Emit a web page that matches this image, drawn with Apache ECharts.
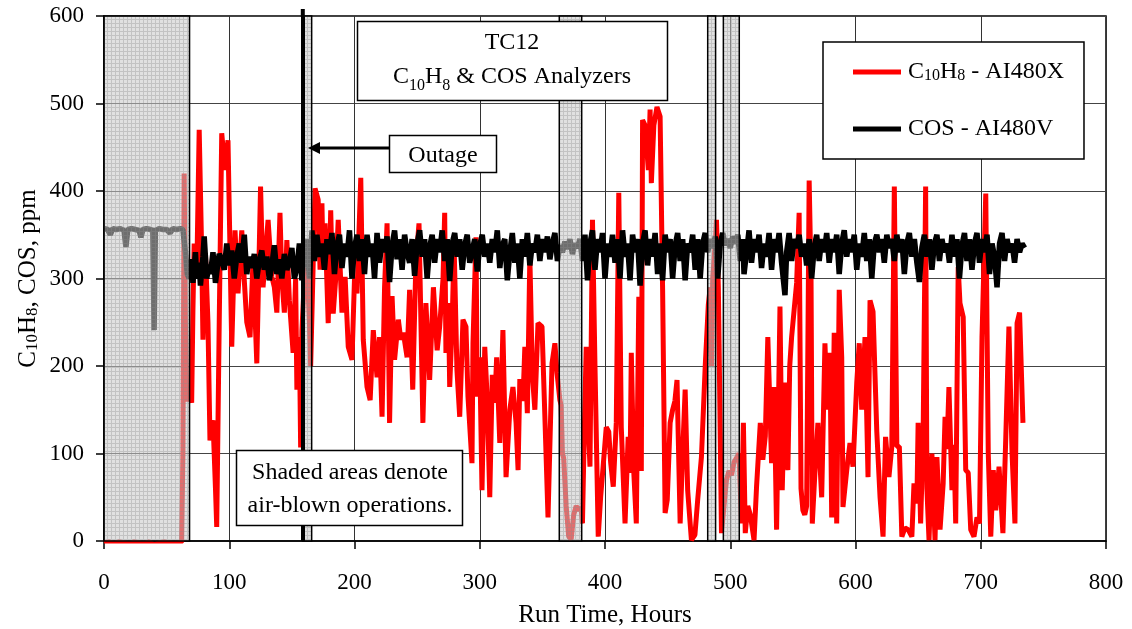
<!DOCTYPE html>
<html>
<head>
<meta charset="utf-8">
<script src="https://cdn.jsdelivr.net/npm/echarts@6/dist/echarts.min.js"></script>
<style>html,body{margin:0;padding:0;background:#fff}#chart{width:1132px;height:629px}</style>
</head>
<body>
<div id="chart"></div>
<script>
// ---- data (hours, ppm) ----
const xTicks = [0, 100, 200, 300, 400, 500, 600, 700, 800];
const yTicks = [0, 100, 200, 300, 400, 500, 600];
const shadedRanges = [[0, 68.3], [158.6, 165.8], [363.5, 381.4], [482, 488.3], [494.5, 507.2]];
const outageHour = 158.6;

const c10h8 = [
[0,-2],[4,-1],[8,-3],[12,-1],[16,-2],[20,-3],[24,-1],[28,-2],[32,-3],[36,-1],[40,-4],[44,-2],[48,-1],[52,-2],[56,-3],[60,-2],[62,-1],
[63,100],[64,420],[65,250],[66,165],[67,160],[68.7,169],[70,158],[71,264],[72,340],[74,300],[76,470],[78,330],[79,230],[81,329],[83,250],
[84.6,115],[86,130],[87,138],[89,60],[90,16],[92,250],[94,466],[96.6,424],[99,458],[102,222],[104.6,355],[107,283],[110,355],[112,298],
[114,250],[116.6,233],[119,321],[122,203],[125,405],[127,290],[129,330],[131,367],[134,302],[136,290],[138,261],[140.5,375],[142,300],
[144,261],[146,344],[148,275],[151,215],[153,300],[154,173],[156,233],[157,107],[158,240],[160,300],[162,320],[164,250],[165,200],
[166,199],[168.5,403],[171,390],[172.5,310],[174,386],[175,310],[176.5,363],[179,249],[181,378],[183,260],[185,300],[187,367],[190,261],
[192.5,302],[195,222],[198,207],[200,300],[202,283],[205,415],[207,230],[210,176],[212.5,161],[215,241],[218,187],[220,233],[222,142],
[224,290],[226,363],[228,135],[230,280],[232,207],[235,253],[237,230],[239,238],[242,210],[244,287],[246.5,173],[249,318],[251.5,363],
[254.6,135],[257,272],[260,184],[263,290],[266,218],[268,245],[270.7,300],[272,375],[273,215],[275,272],[276,176],[278,250],[279.5,340],
[281.8,195],[284,142],[286.6,253],[289,245],[290.6,165],[293.8,89],[294.6,226],[297,347],[298,165],[300,210],[301.8,58],[304,222],
[306,161],[308,50],[310,190],[312,158],[313.5,210],[316,112],[318.5,241],[321,73],[324,150],[326.5,176],[329,135],[330.6,81],[332,185],
[334.5,160],[336,222],[338,146],[340,325],[342,190],[344,150],[346.5,249],[349.7,245],[352,142],[354.5,27],[357.7,203],[360,226],
[361.7,192],[364,161],[365,155],[366,100],[367,95],[369,40],[371,5],[373,2],[375,30],[377,40],[379,35],[381,38],[382,20],[383.5,127],
[385,222],[386.6,135],[388,85],[390,367],[392,200],[394.6,5],[396.5,50],[398.5,85],[401,130],[403,125],[404.5,90],[406.6,62],[409,135],
[411,398],[413,130],[416,20],[418.5,119],[420,78],[421,215],[423,78],[425,20],[427,279],[429,80],[430,481],[432,475],[434.6,424],
[436,493],[437,409],[439,475],[441.5,496],[444,485],[446,287],[448,32],[449.7,47],[452,135],[454,150],[455.8,160],[457.5,184],[460,20],
[462,100],[464,173],[466,58],[469,1],[471.8,7],[474,47],[477,96],[480,199],[482.5,270],[484,290],[485,200],[486,300],[488,340],[489,367],
[490.5,290],[493,9],[495,40],[497,70],[499,80],[501,75],[503,90],[505,95],[507,100],[509,20],[510.5,135],[512,9],[514,40],[516,30],
[519,1],[521,62],[524,135],[526,93],[528,120],[530,233],[533,89],[535,176],[537,13],[539.7,268],[541.5,58],[543.7,181],[546,81],
[547.5,200],[549,233],[551,264],[553,295],[555,375],[556.5,60],[558,35],[559.5,30],[561,40],[563,412],[564.5,300],[565.5,20],[567.7,81],
[570,135],[573,50],[575.6,226],[577.5,150],[579.6,215],[581,27],[583,238],[585,20],[587,287],[589,210],[590,39],[593,81],[595.6,112],
[598,85],[601,181],[603,226],[605,150],[607.6,233],[610,73],[611.6,275],[614,262],[617,125],[619.6,50],[622,5],[624,119],[626.7,73],
[629,108],[631,405],[633,108],[635,108],[637,5],[639.5,15],[642,13],[645,5],[646.7,66],[649,43],[650,135],[652,20],[654,120],[656,405],
[657,60],[658.7,1],[661,100],[663.5,1],[665,96],[667.5,13],[670,66],[671.5,142],[673,105],[674.6,176],[677,58],[678.6,110],[680,20],
[682,313],[683.4,272],[686,256],[688,81],[690,78],[692,13],[694.6,5],[697,27],[699,20],[701,233],[704,397],[706,100],[708,5],[710,81],
[712,35],[714.6,85],[717.7,9],[720,119],[722.5,245],[725,100],[727.3,20],[729,249],[731,261],[733.7,135]
];

const cos = [
[0,357],[3,356],[5,350],[7,357],[10,356],[13,357],[16,355],[17.5,336],[19,356],[22,357],[25,356],[28,355],[29.5,347],[31,356],[34,357],
[37,356],[39,355],[40,241],[41,355],[44,357],[47,356],[50,356],[52.7,352],[55,357],[58,356],[61,357],[63,356],[65,330],[66.5,305],[68,300],
[70,322],[71,295],[73,330],[74,300],[76,318],[77,292],[79,325],[80,348],[82,300],[84,316],[85,305],[87,330],[89,295],[91,318],[92,328],
[94,322],[96,310],[98,340],[100,315],[102,332],[104,300],[106,325],[108,340],[110,318],[112,350],[114,305],[116,325],[118,312],[120,328],
[122,300],[124,320],[126,332],[128,310],[130,325],[132,298],[134,315],[136,338],[138,305],[140,322],[142,300],[144,328],[146,310],
[148,318],[150,335],[152,300],[154,312],[156,340],[158,298],[160,330],[162,345],[164,300],[166,355],[168,320],[170,350],[172,325],
[174,340],[176,310],[178,345],[180,328],[182,352],[184,305],[186,338],[188,350],[190,312],[192,340],[194,325],[196,355],[198,300],
[200,335],[202,350],[204,320],[206,345],[208,305],[210,350],[212,325],[214,340],[216,300],[218,352],[220,318],[222,345],[224,330],
[226,348],[228,296],[230,338],[232,355],[234,322],[236,345],[238,310],[240,350],[242,330],[244,318],[246,345],[248,303],[250,340],
[252,355],[254,325],[256,345],[258,300],[260,336],[262,350],[264,318],[266,345],[268,330],[270,355],[272,320],[274,345],[276,297],
[278,340],[280,352],[282,325],[284,345],[286,310],[288,338],[290,350],[292,318],[294,332],[296,345],[298,308],[300,338],[302,350],
[304,325],[306,340],[308,318],[310,345],[312,330],[314,355],[316,312],[318,338],[320,345],[322,298],[324,330],[326,352],[328,318],
[330,340],[332,300],[334,345],[336,325],[338,352],[340,315],[342,340],[344,330],[346,350],[348,320],[350,345],[352,330],[354,348],
[356,322],[358,340],[360,352],[362,320],[364,338],[366,330],[368,342],[370,334],[372,345],[374,328],[376,340],[378,335],[380,345],
[382,320],[384,350],[386,298],[388,340],[390,355],[392,310],[394,345],[396,330],[398,352],[400,300],[402,340],[404,325],[406,350],
[408,318],[410,345],[412,300],[414,355],[416,325],[418,340],[420,298],[422,350],[424,330],[426,345],[428,292],[430,340],[432,355],
[434,315],[436,345],[438,325],[440,352],[442,305],[444,340],[446,298],[448,350],[450,330],[452,345],[454,300],[456,338],[458,352],
[460,320],[462,345],[464,298],[466,340],[468,330],[470,350],[472,310],[474,345],[476,300],[478,340],[480,352],[482,330],[484,345],
[486,335],[488,348],[490,300],[492,340],[494,352],[496,338],[498,345],[500,335],[502,348],[504,340],[506,350],[508,320],[510,345],
[511,305],[513,330],[515,355],[517,318],[519,345],[521,330],[523,350],[525,312],[527,340],[529,325],[531,352],[533,310],[535,345],
[537,330],[539,352],[541,318],[543.7,281],[545,330],[547,352],[549,320],[551,345],[553,335],[555,350],[557,325],[559,340],[561,315],
[563,345],[565,300],[567,335],[569,350],[571,320],[573,345],[575,330],[577,352],[579,318],[581,345],[583,330],[585,350],[587,305],
[589,340],[591,355],[593,325],[595,345],[597,330],[599,350],[601,310],[603,340],[605,325],[607,352],[609,320],[611,345],[613,300],
[615,340],[617,350],[619,330],[621,345],[623,318],[625,350],[627,335],[629,345],[631,320],[633,350],[635,330],[637,345],[639,305],
[641,340],[643,352],[645,325],[647,345],[649,318],[651,296],[653,335],[655,350],[657,325],[659,345],[661,310],[663,340],[665,350],
[667,320],[669,345],[671,330],[673,340],[675,318],[677,350],[679,325],[681,345],[683,300],[685,338],[687,352],[689,320],[691,345],
[693,310],[695,340],[697,352],[699,318],[701,345],[703,330],[705,350],[707,305],[709,340],[711,325],[713,290],[715,340],[717,352],
[719,320],[721,345],[723,330],[725,340],[727,318],[729,345],[731,330],[733,340],[735,335]
];

// ---- rendering ----
const FONT = 'Liberation Serif';
const subRich = {
  a: { fontFamily: FONT, fontSize: 24, lineHeight: 24, color: '#000' },
  s: { fontFamily: FONT, fontSize: 16, lineHeight: 12, verticalAlign: 'bottom', color: '#000' }
};
const yNameRich = {
  a: { fontFamily: FONT, fontSize: 25, lineHeight: 25, color: '#000' },
  s: { fontFamily: FONT, fontSize: 17, lineHeight: 12, verticalAlign: 'bottom', color: '#000' }
};

// hatch pattern for shaded (air-blown) areas
const pc = document.createElement('canvas');
pc.width = 4; pc.height = 4;
const pctx = pc.getContext('2d');
pctx.fillStyle = 'rgba(200,200,200,0.55)';
pctx.fillRect(0, 0, 4, 4);
pctx.fillStyle = 'rgba(140,140,140,0.35)';
pctx.fillRect(3, 0, 1, 4);
pctx.fillRect(0, 3, 3, 1);

const chart = echarts.init(document.getElementById('chart'), null, { renderer: 'canvas' });
const option = {
  animation: false,
  backgroundColor: '#fff',
  grid: { left: 104, top: 16, right: 26, bottom: 88, show: true, borderColor: '#000', borderWidth: 1.5,
    backgroundColor: '#fff', containLabel: false, outerBoundsMode: 'none' },
  xAxis: {
    type: 'value', min: xTicks[0], max: xTicks[xTicks.length - 1], interval: 100,
    name: 'Run Time, Hours', nameLocation: 'middle', nameGap: 62, nameMoveOverlap: false,
    nameTextStyle: { fontFamily: FONT, fontSize: 25, color: '#000' },
    axisLine: { show: true, lineStyle: { color: '#000', width: 1.5 } },
    axisTick: { show: true, length: 8, lineStyle: { color: '#000', width: 1.5 } },
    axisLabel: { fontFamily: FONT, fontSize: 23, color: '#000', margin: 30 },
    splitLine: { show: true, lineStyle: { color: '#333', width: 1 } }
  },
  yAxis: {
    type: 'value', min: yTicks[0], max: yTicks[yTicks.length - 1], interval: 100,
    name: '{a|C}{s|10}{a|H}{s|8}{a|, COS, ppm}', nameLocation: 'middle', nameGap: 63, nameRotate: 90, nameMoveOverlap: false,
    nameTextStyle: { rich: yNameRich },
    axisLine: { show: true, lineStyle: { color: '#000', width: 1.5 } },
    axisTick: { show: true, length: 8, lineStyle: { color: '#000', width: 1.5 } },
    axisLabel: { fontFamily: FONT, fontSize: 23, color: '#000', margin: 20 },
    splitLine: { show: true, lineStyle: { color: '#444', width: 1 } }
  },
  legend: {
    orient: 'vertical', left: 823, top: 42,
    data: ['C10H8 - AI480X', 'COS - AI480V'],
    backgroundColor: '#fff', borderColor: '#000', borderWidth: 1.5,
    padding: [18, 20, 18, 30], itemGap: 33,
    icon: 'rect', itemWidth: 48, itemHeight: 5,
    formatter: function (n) {
      return n === 'C10H8 - AI480X' ? '{a|C}{s|10}{a|H}{s|8}{a| - AI480X}' : '{a|COS - AI480V}';
    },
    textStyle: { rich: subRich, padding: [0, 0, 0, 2] }
  },
  series: [
    {
      name: 'C10H8 - AI480X', type: 'line', data: c10h8, showSymbol: false, z: 2,
      lineStyle: { color: '#ff0000', width: 5 }, itemStyle: { color: '#ff0000' }
    },
    {
      name: 'COS - AI480V', type: 'line', data: cos, showSymbol: false, z: 3,
      lineStyle: { color: '#000', width: 5.5 }, itemStyle: { color: '#000' }
    },
    {
      name: 'shade', type: 'line', data: [], z: 6, silent: true,
      markArea: {
        silent: true, z: 8,
        itemStyle: { color: { image: pc, repeat: 'repeat' }, borderColor: '#000', borderWidth: 1.5 },
        data: shadedRanges.map(r => [{ xAxis: r[0] }, { xAxis: r[1] }])
      },
      markLine: {
        silent: true, z: 9, symbol: 'none', label: { show: false },
        lineStyle: { color: '#000', width: 4, type: 'solid' },
        data: [{ xAxis: outageHour }]
      }
    }
  ],
  graphic: [
    { type: 'line', z: 99, shape: { x1: 302.8, y1: 9, x2: 302.8, y2: 17 }, style: { stroke: '#000', lineWidth: 4 } },
    { type: 'rect', z: 100, shape: { x: 357.5, y: 21.5, width: 310, height: 79 },
      style: { fill: '#fff', stroke: '#000', lineWidth: 1.5 } },
    { type: 'text', z: 101, x: 512, y: 60,
      style: { text: '{a|TC12}\n{a|C}{s|10}{a|H}{s|8}{a| & COS Analyzers}', rich: {
        a: { fontFamily: FONT, fontSize: 24, lineHeight: 34, color: '#000' },
        s: { fontFamily: FONT, fontSize: 16, lineHeight: 22, verticalAlign: 'bottom', color: '#000' } },
        align: 'center', verticalAlign: 'middle' } },
    { type: 'rect', z: 100, shape: { x: 389.5, y: 135.5, width: 107, height: 37 },
      style: { fill: '#fff', stroke: '#000', lineWidth: 1.5 } },
    { type: 'text', z: 101, x: 443, y: 156,
      style: { text: 'Outage', fontFamily: FONT, fontSize: 24, fill: '#000', align: 'center', verticalAlign: 'middle' } },
    { type: 'line', z: 100, shape: { x1: 389, y1: 148, x2: 316, y2: 148 }, style: { stroke: '#000', lineWidth: 3 } },
    { type: 'polygon', z: 100, shape: { points: [[308, 148], [320, 142], [320, 154]] }, style: { fill: '#000' } },
    { type: 'rect', z: 100, shape: { x: 236.5, y: 450.5, width: 226, height: 75 },
      style: { fill: '#fff', stroke: '#000', lineWidth: 1.5 } },
    { type: 'text', z: 101, x: 350, y: 489,
      style: { text: 'Shaded areas denote\nair-blown operations.', fontFamily: FONT, fontSize: 24, lineHeight: 33,
        fill: '#000', align: 'center', verticalAlign: 'middle' } }
  ]
};
chart.setOption(option);
</script>
</body>
</html>
